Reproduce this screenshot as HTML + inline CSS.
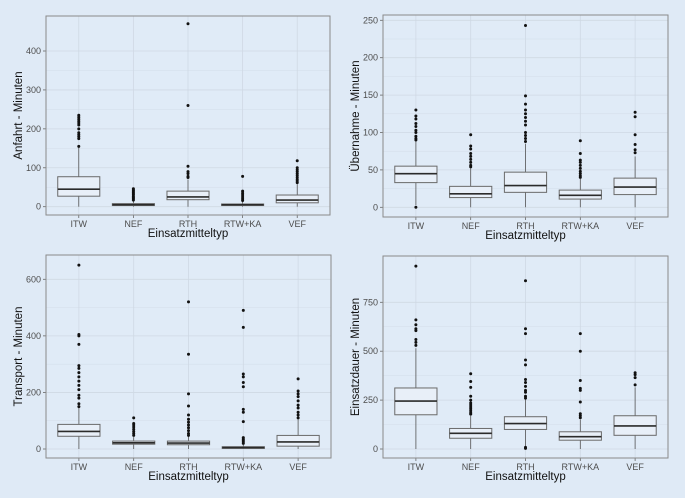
<!DOCTYPE html>
<html><head><meta charset="utf-8"><style>
html,body{margin:0;padding:0;background:#dfeaf6;}
svg{display:block;font-family:"Liberation Sans",Arial,sans-serif;}
</style></head><body>
<svg id="chart" width="685" height="498" viewBox="0 0 685 498" xmlns="http://www.w3.org/2000/svg"></svg>
<script>
const categories = ["ITW","NEF","RTH","RTW+KA","VEF"];

const anfahrtQ1 = [27,3,18,3,10];
const anfahrtMed = [45,5,25,5,17];
const anfahrtQ3 = [77,8,40,7,30];
const anfahrtLo = [0,0,0,0,0];
const anfahrtHi = [155,15,70,14,58];
const anfahrtOut = [[155,175,180,185,190,200,210,215,220,225,230,235],[17,20,23,26,30,33,36,40,43,46],[75,78,85,90,104,260,470],[16,20,25,30,35,40,78],[62,66,70,75,80,85,90,95,100,118]];
const anfahrtTicks = [0,100,200,300,400];

const uebernahmeQ1 = [33,13,20,11,17];
const uebernahmeMed = [45,18,29,16,27];
const uebernahmeQ3 = [55,28,47,23,39];
const uebernahmeLo = [3,0,0,0,0];
const uebernahmeHi = [88,52,85,38,68];
const uebernahmeOut = [[0,90,92,95,100,103,108,112,118,122,130],[54,56,60,64,68,72,78,82,97],[88,92,96,100,110,115,120,125,130,138,149,243],[40,42,45,48,52,56,60,63,72,89],[73,77,84,97,121,127]];
const uebernahmeTicks = [0,50,100,150,200,250];

const transportQ1 = [45,17,15,2,10];
const transportMed = [62,22,21,5,25];
const transportQ3 = [87,28,28,8,48];
const transportLo = [0,0,0,0,0];
const transportHi = [145,42,45,15,105];
const transportOut = [[150,160,180,190,210,225,240,255,270,285,295,370,400,405,650],[48,55,62,70,78,85,90,110],[48,55,65,75,85,95,105,120,152,195,335,520],[20,25,30,35,40,97,130,140,220,235,255,265,430,490],[110,120,130,145,155,170,185,195,205,248]];
const transportTicks = [0,200,400,600];

const dauerQ1 = [175,55,100,45,70];
const dauerMed = [245,80,130,63,118];
const dauerQ3 = [312,105,165,88,170];
const dauerLo = [0,0,10,0,0];
const dauerHi = [515,170,255,150,315];
const dauerOut = [[530,545,560,605,615,635,660,935],[178,185,195,205,215,225,235,250,270,315,345,385],[3,8,260,270,290,300,320,340,355,430,455,590,615,860],[160,170,180,240,300,310,350,500,590],[328,365,380,390]];
const dauerTicks = [0,250,500,750];

const svg = document.getElementById('chart');
const NS = "http://www.w3.org/2000/svg";
function mk(tag, attrs, parent){const e=document.createElementNS(NS,tag);for(const k in attrs)e.setAttribute(k,attrs[k]);(parent||svg).appendChild(e);return e;}

const panels = [
 {key:'anfahrt',title:'Anfahrt - Minuten',L:46,R:330,T:16,B:215,y0:206.7,v1:400,y1:51,q1:anfahrtQ1,med:anfahrtMed,q3:anfahrtQ3,lo:anfahrtLo,hi:anfahrtHi,out:anfahrtOut,ticks:anfahrtTicks},
 {key:'uebernahme',title:'Übernahme - Minuten',L:383,R:668,T:15,B:217,y0:207.3,v1:250,y1:20.3,q1:uebernahmeQ1,med:uebernahmeMed,q3:uebernahmeQ3,lo:uebernahmeLo,hi:uebernahmeHi,out:uebernahmeOut,ticks:uebernahmeTicks},
 {key:'transport',title:'Transport - Minuten',L:46,R:331,T:255,B:458,y0:449,v1:600,y1:279.3,q1:transportQ1,med:transportMed,q3:transportQ3,lo:transportLo,hi:transportHi,out:transportOut,ticks:transportTicks},
 {key:'einsatzdauer',title:'Einsatzdauer - Minuten',L:383,R:668,T:256,B:458,y0:449,v1:750,y1:302.3,q1:dauerQ1,med:dauerMed,q3:dauerQ3,lo:dauerLo,hi:dauerHi,out:dauerOut,ticks:dauerTicks}
];

panels.forEach(p=>{
  const g = mk('g',{});
  
  
  const yS = v => p.y0 + (p.y1-p.y0)*v/p.v1;
  const step = (p.R-p.L)/5.2;
  const xS = i => p.L + step*(0.6+i);
  const bw = step*0.77;
  mk('rect',{x:p.L,y:p.T,width:p.R-p.L,height:p.B-p.T,fill:'#e0ebf7'},g);
  // minor grid
  for(let i=0;i<p.ticks.length-1;i++){
    const y=yS((p.ticks[i]+p.ticks[i+1])/2);
    mk('line',{x1:p.L,x2:p.R,y1:y,y2:y,stroke:'#d3dde8','stroke-width':0.5},g);
  }
  p.ticks.forEach(t=>{
    const y=yS(t);
    const gl=mk('line',{x1:p.L,x2:p.R,y1:y,y2:y,stroke:'#cfd9e4','stroke-width':0.8},g);
    
    
    mk('line',{x1:p.L-3,x2:p.L,y1:y,y2:y,stroke:'#666','stroke-width':0.8},g);
    const tx=mk('text',{x:p.L-5,y:y+3,'text-anchor':'end','font-size':'9','fill':'#4d4d4d'},g);
    tx.textContent=t;
    
    
  });
  categories.forEach((c,i)=>{
    const x=xS(i);
    mk('line',{x1:x,x2:x,y1:p.T,y2:p.B,stroke:'#cfd9e4','stroke-width':0.8},g);
  });
  categories.forEach((c,i)=>{
    const x=xS(i);
    const bg=mk('g',{},g);
    
    
    mk('line',{x1:x,x2:x,y1:yS(p.q3[i]),y2:yS(p.hi[i]),stroke:'#555','stroke-width':0.8},bg);
    mk('line',{x1:x,x2:x,y1:yS(p.q1[i]),y2:yS(p.lo[i]),stroke:'#555','stroke-width':0.8},bg);
    const top=yS(p.q3[i]), bot=yS(p.q1[i]);
    mk('rect',{x:x-bw/2,y:top,width:bw,height:Math.max(bot-top,1.5),fill:'#e8eff8',stroke:'#6a6a6a','stroke-width':1},bg);
    mk('line',{x1:x-bw/2,x2:x+bw/2,y1:yS(p.med[i]),y2:yS(p.med[i]),stroke:'#2b2b2b','stroke-width':1.6},bg);
    p.out[i].forEach(v=>{
      const pt=mk('circle',{cx:x,cy:yS(v),r:1.5,fill:'#111'},bg);
      
      
    });
    mk('line',{x1:x,x2:x,y1:p.B,y2:p.B+3,stroke:'#666','stroke-width':0.8},g);
    const lt=mk('text',{x:x,y:p.B+12,'text-anchor':'middle','font-size':'9','fill':'#4d4d4d'},g);
    lt.textContent=c;
    
    
  });
  mk('rect',{x:p.L,y:p.T,width:p.R-p.L,height:p.B-p.T,fill:'none',stroke:'#8a8a8a','stroke-width':1},g);
  const xt=mk('text',{x:(p.L+p.R)/2,y:p.B+22,'text-anchor':'middle','font-size':'11.5','fill':'#111'},g);
  xt.textContent='Einsatzmitteltyp';
  
  
  const cy=(p.T+p.B)/2, cx=p.L-24;
  const yt=mk('text',{x:cx,y:cy,'text-anchor':'middle','font-size':'11.5','fill':'#111',transform:'rotate(-90 '+cx+' '+cy+')'},g);
  yt.textContent=p.title;
  
  
});
</script>
</body></html>
